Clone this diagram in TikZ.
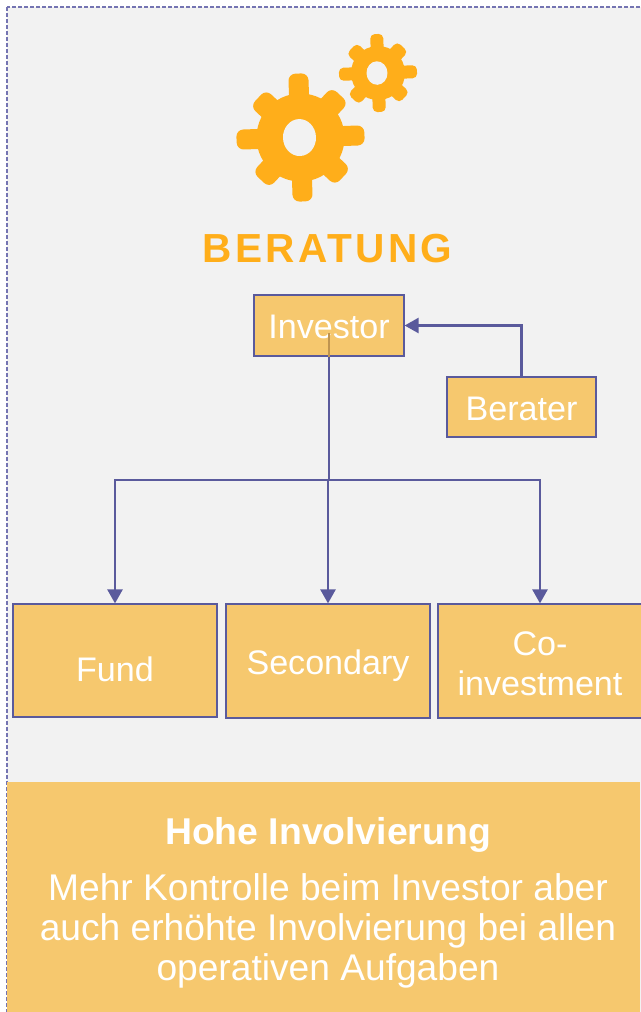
\documentclass[tikz,border=0pt]{standalone}
\usepackage{fontspec}
\setmainfont{Liberation Sans}
\usetikzlibrary{arrows.meta}
\definecolor{pagegray}{HTML}{F2F2F2}
\definecolor{boxorange}{HTML}{F6C86E}
\definecolor{linkblue}{HTML}{5A5A9C}
\definecolor{framelilac}{HTML}{7474B2}
\definecolor{gearorange}{HTML}{FFAE1A}
\definecolor{trunkbrown}{HTML}{BF9450}
\newcommand{\gearwheel}[8]{% x, y, body, long tooth, short tooth, tooth width, hole, corner
  \begin{scope}[shift={(#1,#2)},rotate=2]
    \fill[gearorange](0,0)circle(#3);
    \foreach \a in {0,90,180,270}
      \fill[gearorange,rounded corners=#8,rotate=\a](-#6,0)rectangle(#6,#4);
    \foreach \a in {45,135,225,315}
      \fill[gearorange,rounded corners=#8,rotate=\a](-1.15*#6,0)rectangle(1.15*#6,#5);
    \fill[pagegray](-1,0)ellipse(#7 and 1.12*#7);
  \end{scope}}
\tikzset{
  box/.style={draw=linkblue,fill=boxorange,text=white,line width=.025cm,inner sep=0pt,font=\fontsize{19.4}{22.7}\selectfont},
  link/.style={draw=linkblue,line width=.05cm,-{Triangle[length=.28cm,width=.3cm]}},
  plain/.style={draw=linkblue,line width=.05cm},
  bandtext/.style={text=white,inner sep=0pt,align=center,font=\fontsize{21.15}{22.7}\selectfont}
}
\begin{document}
\begin{tikzpicture}[x=.02cm,y=-.02cm]
\useasboundingbox(0,0)rectangle(640,1012);
\fill[white](0,0)rectangle(640,1012);
\draw[framelilac,fill=pagegray,line width=.025cm,dash pattern=on .08cm off .04cm](7,7)rectangle(700,1100);
% gears
\gearwheel{300.5}{137.5}{44}{64}{58}{10}{16.5}{.14cm}
\gearwheel{378}{73}{27}{39}{36}{6.5}{10.5}{.09cm}
\node[text=gearorange,inner sep=0pt,font=\fontsize{23.1}{26}\selectfont\bfseries\addfontfeature{LetterSpace=8}](title)at(327.5,249){BERATUNG};
% boxes
\node[box,minimum width=3cm,minimum height=1.22cm,text height=.52cm,text depth=0pt](investor)at(329,325.5){Investor};
\node[box,minimum width=2.98cm,minimum height=1.2cm,text height=.52cm,text depth=0pt](berater)at(521.5,407){Berater};
\node[box,minimum width=4.08cm,minimum height=2.26cm,text height=.82cm,text depth=0pt](fund)at(115,660.5){Fund};
\node[box,minimum width=4.08cm,minimum height=2.28cm,text height=.52cm,text depth=0pt](secondary)at(328,661){Secondary};
\node[box,minimum width=4.08cm,minimum height=2.28cm,align=center](coinvest)at(540,661){\rule{0pt}{.58cm}Co-\\investment};
% links
\coordinate(split)at(329,480);
\coordinate(inside)at(329,333);
\draw[trunkbrown,line width=.05cm](investor.south)--(inside);
\draw[plain](investor.south)--(split);
\draw[link](split)-|(fund.north);
\draw[link](secondary.north|-split)--(secondary.north);
\draw[link](split)-|(coinvest.north);
\draw[link](berater.north)|-(investor.east);
% band at the bottom
\fill[boxorange](7,782)rectangle(640,1012);
\node[bandtext,font=\fontsize{21.25}{22.7}\selectfont\bfseries](heading)at(328,835){Hohe Involvierung};
\node[bandtext](bandbody)at(328,930.5){Mehr Kontrolle beim Investor aber\\auch erhöhte Involvierung bei allen\\operativen Aufgaben};
\end{tikzpicture}
\end{document}
